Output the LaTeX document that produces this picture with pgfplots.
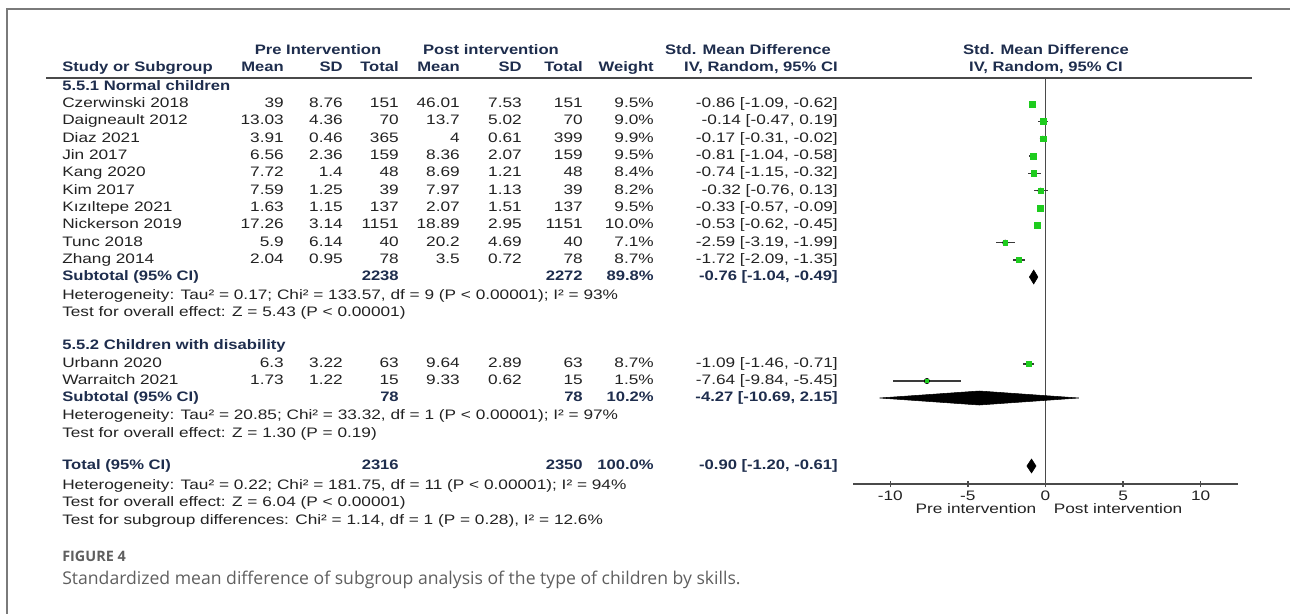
\documentclass[border=0pt]{standalone}
\usepackage{pgfplots}
\usepackage{pgfplotstable}
\pgfplotsset{compat=1.18}
\usepackage{fontspec}
\setmainfont{Liberation Sans}[FakeStretch=1.255, BoldFeatures={FakeStretch=1.21}]
\newfontfamily\capfont{Open Sans}
\definecolor{txt}{HTML}{222222}
\definecolor{hdr}{HTML}{1E2D4D}
\definecolor{framec}{HTML}{7A7A7A}
\definecolor{grn}{HTML}{1ECC1E}
\definecolor{capg}{HTML}{5F5F5F}
\definecolor{axc}{HTML}{4A4A4A}
\definecolor{cil}{HTML}{3A3A3A}
\newcommand\fs{\fontsize{10.3}{12}\selectfont}
\newcommand\E[3]{\node[anchor=mid east] at (#1,-#2) {#3};}
\newcommand\W[3]{\node[anchor=mid west] at (#1,-#2) {#3};}
\newcommand\C[3]{\node[anchor=mid] at (#1,-#2) {#3};}
\newcommand\row[9]{\W{62}{#1}{#2}\E{284}{#1}{#3}\E{343}{#1}{#4}\E{399}{#1}{#5}\E{460}{#1}{#6}\E{522}{#1}{#7}\E{583}{#1}{#8}\E{654}{#1}{#9}}

\pgfplotstableread{
y est lo hi ms
-104 -0.86 -1.09 -0.62 2.14
-121.3 -0.14 -0.47 0.19 2.09
-138.7 -0.17 -0.31 -0.02 2.19
-156 -0.81 -1.04 -0.58 2.14
-173.3 -0.74 -1.15 -0.32 2.02
-190.7 -0.32 -0.76 0.13 1.99
-208 -0.33 -0.57 -0.09 2.14
-225.3 -0.53 -0.62 -0.45 2.2
-242.7 -2.59 -3.19 -1.99 1.85
-260 -1.72 -2.09 -1.35 2.05
-364 -1.09 -1.46 -0.71 2.05
-381 -7.64 -9.84 -5.45 1.2
}\studies

\begin{document}
\begin{tikzpicture}[x=0.75pt,y=0.75pt, every node/.style={inner sep=0pt, font=\fs, text=txt}]
\path[use as bounding box] (0,0) rectangle (1290,-614);
\draw[framec, line width=1.5pt] (7,-614) -- (7,-9) -- (1290,-9);

% headers
\begin{scope}[every node/.append style={font=\fs\bfseries, text=hdr}]
\C{318}{51}{Pre Intervention}
\C{491}{51}{Post intervention}
\C{748}{51}{Std. Mean Difference}
\C{1046}{51}{Std. Mean Difference}
\W{62}{68}{Study or Subgroup}
\E{284}{68}{Mean}\E{343}{68}{SD}\E{399}{68}{Total}
\E{460}{68}{Mean}\E{522}{68}{SD}\E{583}{68}{Total}
\E{654}{68}{Weight}
\E{838}{68}{IV, Random, 95\% CI}
\C{1046}{68}{IV, Random, 95\% CI}
\W{62}{87}{5.5.1 Normal children}
\W{62}{346}{5.5.2 Children with disability}
\W{62}{277}{Subtotal (95\% CI)}
\E{399}{277}{2238}\E{583}{277}{2272}\E{654}{277}{89.8\%}
\E{838}{277}{-0.76 [-1.04, -0.49]}
\W{62}{398}{Subtotal (95\% CI)}
\E{399}{398}{78}\E{583}{398}{78}\E{654}{398}{10.2\%}
\E{838}{398}{-4.27 [-10.69, 2.15]}
\W{62}{466}{Total (95\% CI)}
\E{399}{466}{2316}\E{583}{466}{2350}\E{654}{466}{100.0\%}
\E{838}{466}{-0.90 [-1.20, -0.61]}
\end{scope}
\draw[axc, line width=1.1pt] (46,-78) -- (1252,-78);

\row{104}{Czerwinski 2018}{39}{8.76}{151}{46.01}{7.53}{151}{9.5\%}\E{838}{104}{-0.86 [-1.09, -0.62]}
\row{121.3}{Daigneault 2012}{13.03}{4.36}{70}{13.7}{5.02}{70}{9.0\%}\E{838}{121.3}{-0.14 [-0.47, 0.19]}
\row{138.7}{Diaz 2021}{3.91}{0.46}{365}{4}{0.61}{399}{9.9\%}\E{838}{138.7}{-0.17 [-0.31, -0.02]}
\row{156}{Jin 2017}{6.56}{2.36}{159}{8.36}{2.07}{159}{9.5\%}\E{838}{156}{-0.81 [-1.04, -0.58]}
\row{173.3}{Kang 2020}{7.72}{1.4}{48}{8.69}{1.21}{48}{8.4\%}\E{838}{173.3}{-0.74 [-1.15, -0.32]}
\row{190.7}{Kim 2017}{7.59}{1.25}{39}{7.97}{1.13}{39}{8.2\%}\E{838}{190.7}{-0.32 [-0.76, 0.13]}
\row{208}{Kızıltepe 2021}{1.63}{1.15}{137}{2.07}{1.51}{137}{9.5\%}\E{838}{208}{-0.33 [-0.57, -0.09]}
\row{225.3}{Nickerson 2019}{17.26}{3.14}{1151}{18.89}{2.95}{1151}{10.0\%}\E{838}{225.3}{-0.53 [-0.62, -0.45]}
\row{242.7}{Tunc 2018}{5.9}{6.14}{40}{20.2}{4.69}{40}{7.1\%}\E{838}{242.7}{-2.59 [-3.19, -1.99]}
\row{260}{Zhang 2014}{2.04}{0.95}{78}{3.5}{0.72}{78}{8.7\%}\E{838}{260}{-1.72 [-2.09, -1.35]}
\W{62}{296}{Heterogeneity: Tau² = 0.17; Chi² = 133.57, df = 9 (P < 0.00001); I² = 93\%}
\W{62}{313}{Test for overall effect: Z = 5.43 (P < 0.00001)}
\row{364}{Urbann 2020}{6.3}{3.22}{63}{9.64}{2.89}{63}{8.7\%}\E{838}{364}{-1.09 [-1.46, -0.71]}
\row{381}{Warraitch 2021}{1.73}{1.22}{15}{9.33}{0.62}{15}{1.5\%}\E{838}{381}{-7.64 [-9.84, -5.45]}
\W{62}{416}{Heterogeneity: Tau² = 20.85; Chi² = 33.32, df = 1 (P < 0.00001); I² = 97\%}
\W{62}{434}{Test for overall effect: Z = 1.30 (P = 0.19)}
\W{62}{486}{Heterogeneity: Tau² = 0.22; Chi² = 181.75, df = 11 (P < 0.00001); I² = 94\%}
\W{62}{503}{Test for overall effect: Z = 6.04 (P < 0.00001)}
\W{62}{521}{Test for subgroup differences: Chi² = 1.14, df = 1 (P = 0.28), I² = 12.6\%}

\C{976}{510}{Pre intervention}
\C{1118}{510}{Post intervention}

\node[anchor=mid west, font=\capfont\bfseries\fontsize{10.8}{12}\selectfont, text=capg] at (62,-558) {FIGURE 4};
\node[anchor=mid west, font=\capfont\fontsize{13.2}{15}\selectfont, text=capg] at (62,-581) {Standardized mean difference of subgroup analysis of the type of children by skills.};

\coordinate (ax) at (853,-484);
\begin{axis}[at={(ax)}, anchor=south west, scale only axis,
  width=288.75pt, height=304.5pt,
  xmin=-12.4, xmax=12.4, ymin=-484, ymax=-78,
  axis x line=bottom, axis y line=none,
  x axis line style={-, draw=axc, line width=1.1pt},
  xtick={-10,-5,0,5,10}, xticklabels={-10,-5,0,5,10},
  tick align=center, major tick length=4.5pt,
  tick style={draw=axc, line width=1.1pt},
  xticklabel style={font=\fs, text=txt, yshift=-3pt},
  clip=false]
\addplot[axc, line width=1.1pt, forget plot] coordinates {(0,-78) (0,-484)};
\addplot[only marks, mark=none, error bars/.cd, x dir=both, x explicit, error mark=none,
  error bar style={draw=cil, line width=0.9pt, solid}]
  table[x=est, y=y, x error plus expr=\thisrow{hi}-\thisrow{est}, x error minus expr=\thisrow{est}-\thisrow{lo}] {\studies};
\addplot[scatter, only marks, mark=square*,
  scatter/use mapped color={draw=grn, fill=grn},
  visualization depends on={\thisrow{ms}\as\msz},
  scatter/@pre marker code/.append style={/tikz/mark size=\msz}]
  table[x=est, y=y] {\studies};
\addplot[fill=black, draw=black] coordinates {(-1.04,-277) (-0.76,-270) (-0.49,-277) (-0.76,-284)} -- cycle;
\addplot[fill=black, draw=black] coordinates {(-10.69,-398) (-4.27,-391) (2.15,-398) (-4.27,-405)} -- cycle;
\addplot[fill=black, draw=black] coordinates {(-1.20,-466) (-0.90,-459) (-0.61,-466) (-0.90,-473)} -- cycle;
\end{axis}
\end{tikzpicture}
\end{document}
